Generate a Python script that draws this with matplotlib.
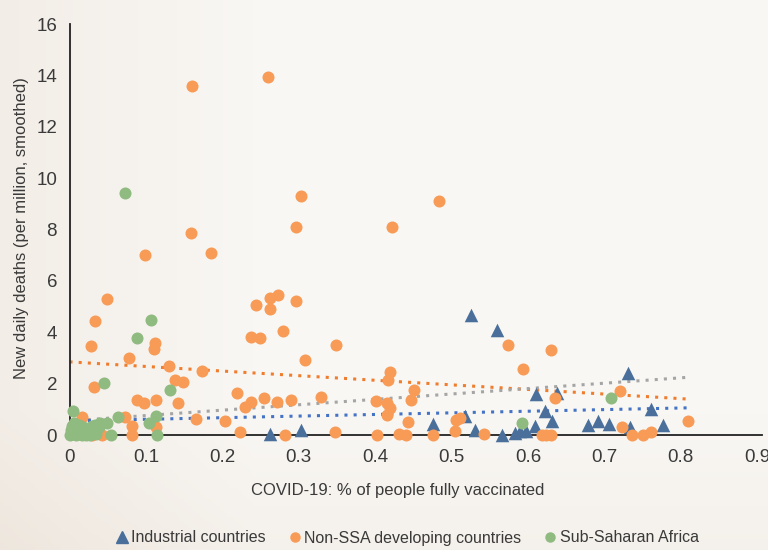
import numpy as np
import matplotlib
matplotlib.use("Agg")
import matplotlib.pyplot as plt
from matplotlib.lines import Line2D

plt.rcParams['font.family'] = ['Liberation Sans', 'DejaVu Sans']

# Industrial countries
ind_x = [0.262, 0.303, 0.476, 0.517, 0.526, 0.531, 0.560, 0.566, 0.583, 0.590,
         0.597, 0.609, 0.610, 0.622, 0.632, 0.638, 0.679, 0.691, 0.706, 0.731,
         0.734, 0.761, 0.776]
ind_y = [0.05, 0.19, 0.42, 0.74, 4.67, 0.19, 4.08, 0.0, 0.09, 0.14,
         0.16, 0.35, 1.59, 0.94, 0.54, 1.62, 0.38, 0.54, 0.42, 2.42,
         0.30, 1.00, 0.41]

# Non-SSA developing countries
dev_x = [0.160, 0.260, 0.303, 0.484, 0.297, 0.422, 0.159, 0.099, 0.185, 0.049,
         0.273, 0.263, 0.244, 0.296, 0.262, 0.033, 0.279, 0.238, 0.249, 0.028,
         0.112, 0.111, 0.349, 0.574, 0.630, 0.078, 0.308, 0.130, 0.174, 0.594,
         0.419, 0.417, 0.138, 0.148, 0.032, 0.451, 0.720, 0.219, 0.088, 0.097,
         0.113, 0.142, 0.329, 0.255, 0.271, 0.290, 0.237, 0.229, 0.401, 0.415,
         0.419, 0.416, 0.447, 0.635, 0.072, 0.017, 0.166, 0.203, 0.443, 0.506,
         0.511, 0.809, 0.082, 0.113, 0.723, 0.761, 0.223, 0.348, 0.431, 0.440,
         0.402, 0.476, 0.504, 0.543, 0.618, 0.624, 0.630, 0.736, 0.750, 0.282,
         0.082, 0.042, 0.030]
dev_y = [13.61, 13.95, 9.32, 9.11, 8.12, 8.12, 7.85, 7.02, 7.09, 5.28,
         5.45, 5.34, 5.08, 5.21, 4.91, 4.45, 4.05, 3.81, 3.78, 3.48,
         3.59, 3.37, 3.51, 3.50, 3.30, 3.02, 2.91, 2.70, 2.48, 2.56,
         2.44, 2.14, 2.16, 2.05, 1.88, 1.75, 1.71, 1.64, 1.38, 1.25,
         1.36, 1.25, 1.50, 1.43, 1.27, 1.36, 1.27, 1.09, 1.33, 1.23,
         1.07, 0.80, 1.36, 1.45, 0.71, 0.71, 0.62, 0.55, 0.49, 0.58,
         0.68, 0.55, 0.37, 0.31, 0.30, 0.12, 0.10, 0.10, 0.06, 0.0,
         0.02, 0.0, 0.16, 0.06, 0.0, 0.0, 0.0, 0.0, 0.0, 0.0,
         0.0, 0.0, 0.0]

# Sub-Saharan Africa
ssa_x = [0.072, 0.106, 0.088, 0.045, 0.131, 0.709, 0.592, 0.004, 0.064, 0.113,
         0.104, 0.049, 0.054, 0.115, 0.000, 0.003, 0.005, 0.008, 0.010, 0.012,
         0.015, 0.018, 0.020, 0.022, 0.025, 0.028, 0.030, 0.033, 0.035, 0.038,
         0.040, 0.006, 0.002, 0.017, 0.027]
ssa_y = [9.41, 4.48, 3.78, 2.03, 1.75, 1.43, 0.45, 0.93, 0.71, 0.74,
         0.48, 0.48, 0.0, 0.0, 0.0, 0.35, 0.10, 0.0, 0.20, 0.40,
         0.05, 0.30, 0.10, 0.0, 0.25, 0.15, 0.35, 0.40, 0.05, 0.30,
         0.45, 0.45, 0.20, 0.0, 0.0]

# dotted trend lines: (x0, y0, x1, y1)
trend_dev = [0.0, 2.85, 0.81, 1.40]
trend_all = [0.0, 0.55, 0.81, 2.25]
trend_ind = [0.0, 0.55, 0.81, 1.06]

c_ind = '#4A6F9B'
c_dev = '#F79B57'
c_ssa = '#8FBA80'
txt = '#3A3A3A'

fig = plt.figure(figsize=(7.68, 5.5), dpi=100)

# soft beige background gradient
bg = fig.add_axes([0, 0, 1, 1], zorder=-10)
gx = np.linspace(0, 1, 200)
gy = np.linspace(0, 1, 150)
GX, GY = np.meshgrid(gx, gy)
shade = np.clip(1 - GX * 3, 0, 1) * 0.6 + np.clip(GY * 4 - 3, 0, 1) * 0.4
light = np.array([0.976, 0.969, 0.957])
dark = np.array([0.935, 0.905, 0.870])
img = light[None, None, :] * (1 - shade[..., None]) + dark[None, None, :] * shade[..., None]
bg.imshow(img, aspect='auto', extent=[0, 1, 0, 1], origin='upper')
bg.axis('off')

ax = fig.add_axes([0.0905, 0.209, 0.9015, 0.747])
ax.set_facecolor('none')

for tr, col in [(trend_dev, '#F07D2E'), (trend_all, '#A5A5A5'), (trend_ind, '#4472C4')]:
    ax.plot([tr[0], tr[2]], [tr[1], tr[3]], linestyle=(0, (1, 2)), color=col, lw=2.2, zorder=2)

ax.scatter(ind_x, ind_y, marker='^', s=95, color=c_ind, linewidths=0, zorder=3, clip_on=False)
ax.scatter(dev_x, dev_y, marker='o', s=75, color=c_dev, linewidths=0, zorder=3, clip_on=False)
ax.scatter(ssa_x, ssa_y, marker='o', s=75, color=c_ssa, linewidths=0, zorder=3, clip_on=False)

ax.set_xlim(0, 0.906)
ax.set_ylim(0, 16)
ax.set_xticks([0, 0.1, 0.2, 0.3, 0.4, 0.5, 0.6, 0.7, 0.8, 0.9])
ax.set_xticklabels(['0', '0.1', '0.2', '0.3', '0.4', '0.5', '0.6', '0.7', '0.8', '0.9'])
ax.set_yticks(range(0, 17, 2))
ax.tick_params(length=0, labelsize=13.5, colors=txt)
ax.tick_params(axis='x', pad=10)
ax.tick_params(axis='y', pad=9)
for s in ['top', 'right']:
    ax.spines[s].set_visible(False)
for s in ['left', 'bottom']:
    ax.spines[s].set_color('#222222')
    ax.spines[s].set_linewidth(1.3)

fig.text(398 / 768, 1 - 490 / 550, 'COVID-19: % of people fully vaccinated',
         ha='center', va='center', fontsize=12, color=txt)
fig.text(22 / 768, 1 - 228 / 550, 'New daily deaths (per million, smoothed)',
         ha='center', va='center', rotation=90, fontsize=12, color=txt)

handles = [
    Line2D([], [], marker='^', color=c_ind, linestyle='none', markersize=8),
    Line2D([], [], marker='o', color=c_dev, linestyle='none', markersize=6.5),
    Line2D([], [], marker='o', color=c_ssa, linestyle='none', markersize=6.5),
]
labels = ['Industrial countries', 'Non-SSA developing countries', 'Sub-Saharan Africa']
fig.legend(handles, labels, loc='center', bbox_to_anchor=(408 / 768, 1 - 538 / 550),
           ncol=3, frameon=False, fontsize=11.5, handlelength=0.6, handletextpad=0.3,
           columnspacing=1.5, labelcolor=txt)

fig.savefig('out.png', dpi=100)
